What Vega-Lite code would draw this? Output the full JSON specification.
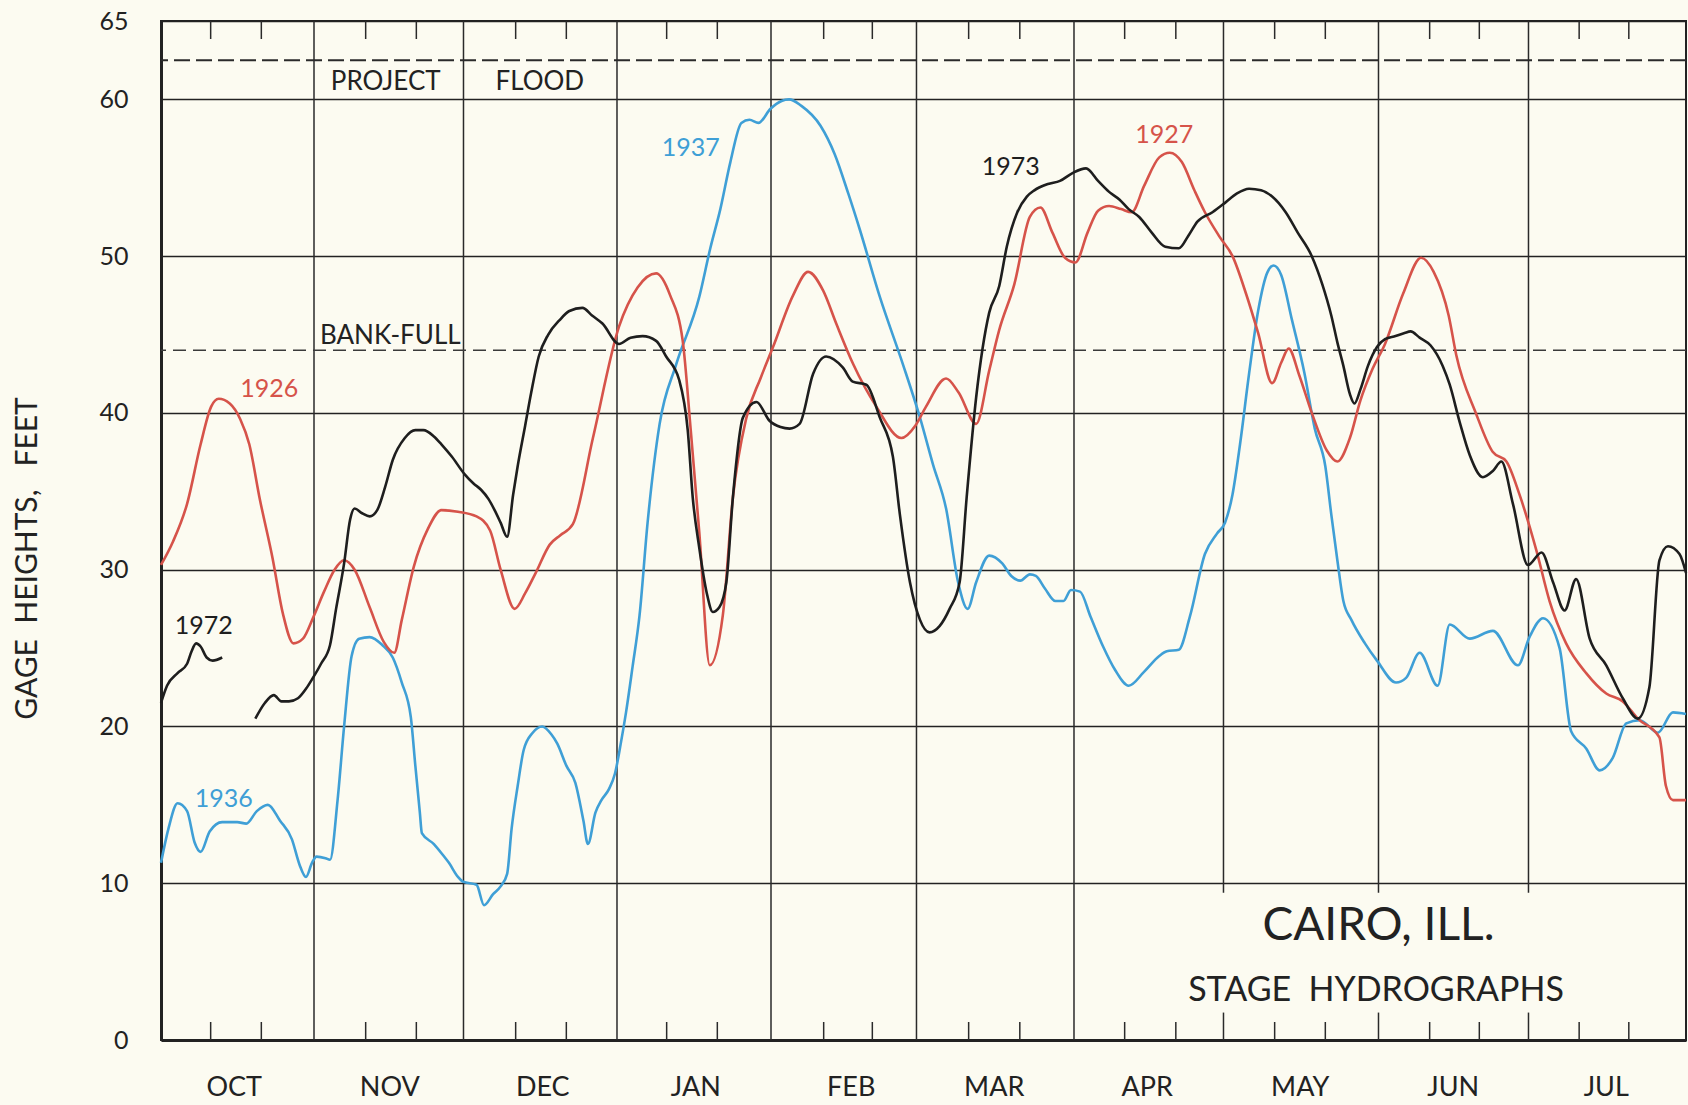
{
  "$schema": "https://vega.github.io/schema/vega-lite/v6.json",
  "width": 1525,
  "height": 1019,
  "autosize": {"type": "none"},
  "padding": {"left": 161, "top": 21, "right": 2, "bottom": 65},
  "background": "#fcfbf1",
  "config": {
    "view": {"stroke": "#222222", "strokeWidth": 2},
    "font": "Lato"
  },
  "datasets": {
    "red": [[0,30.3],[2.4,31.8],[5.2,34.2],[7.9,38.0],[10,40.4],[11.5,40.9],[13.7,40.6],[15.8,39.6],[17.6,38.0],[19.7,34.5],[22.2,30.8],[24.3,27.2],[26.4,25.3],[28.3,25.6],[30.4,27.0],[32.5,28.6],[34.6,30.0],[36.5,30.6],[38.6,30.0],[41.6,27.6],[44.4,25.4],[46.5,24.7],[48,26.8],[50.4,30.2],[53.2,32.6],[55.9,33.8],[59.2,33.7],[62.9,33.4],[65.6,32.5],[67.7,30.0],[70.5,27.5],[72.6,28.5],[74.7,29.8],[77.5,31.6],[79.6,32.2],[82.1,32.9],[86.1,38.4],[91.3,45.5],[95,48.0],[98.7,48.9],[101.5,47.5],[104,44.6],[105.6,38.9],[107.3,32.4],[109.4,23.9],[112,27.1],[114,34.6],[116.7,39.7],[119.5,42.2],[122,44.2],[126,47.5],[129,49.0],[132,47.8],[134.6,45.7],[138,43.1],[142.6,40.4],[147.6,38.4],[150.4,39.2],[152.5,40.4],[156.5,42.2],[159,41.3],[162.5,39.3],[165.1,42.7],[167.1,45.3],[170.1,48.2],[173.2,52.5],[175.3,53.1],[177.7,51.5],[180.2,49.9],[182.3,49.6],[184.7,51.5],[186.8,52.9],[189,53.2],[191.4,53.0],[193.5,52.8],[196,54.5],[199,56.3],[201.1,56.6],[203.5,56.0],[206,54.2],[208.1,52.8],[211.1,51.2],[213.6,50.0],[216.3,47.6],[218.7,45.1],[221.5,41.9],[223.3,43.2],[224.8,44.1],[226.9,42.4],[229.4,40.0],[232.4,37.6],[234.5,36.9],[237,38.4],[239.1,40.8],[241.5,42.8],[244,44.4],[247.6,47.6],[251.2,49.9],[253.7,49.0],[256.7,46.2],[258.2,43.7],[262.1,40.0],[265.5,37.5],[268.2,36.9],[270.8,34.8],[274.2,31.2],[276.8,28.0],[280.1,25.3],[284.1,23.4],[288.1,22.1],[291.4,21.6],[294.4,20.5],[298.7,19.3],[300,16.2],[301.4,15.3],[304,15.3]],
    "blue": [[0,11.3],[1.5,13.5],[3.3,15.1],[5.2,14.6],[6.7,12.6],[7.9,12.0],[9.7,13.3],[12.2,13.9],[15.2,13.9],[17,13.8],[19.1,14.6],[21.3,15.0],[23.7,14.0],[26.1,12.8],[27.6,11.2],[28.9,10.4],[30.1,11.3],[31,11.7],[32.8,11.6],[33.7,11.5],[35.2,15.3],[36.5,20.0],[38,24.5],[39.5,25.6],[41.6,25.7],[44.1,25.2],[46.2,24.4],[48,22.8],[49.8,20.6],[50.7,17.5],[51.6,14.5],[52,13.2],[54.4,12.5],[56.2,11.8],[57.4,11.3],[59.2,10.4],[60.2,10.1],[62.9,9.9],[64.4,8.6],[66.2,9.3],[67.7,9.8],[69,10.6],[69.9,13.5],[71.1,16.2],[72.3,18.5],[74.1,19.6],[76,20.0],[77.8,19.5],[79,18.9],[80.8,17.5],[82.6,16.4],[84.2,14.0],[85.1,12.5],[86.6,14.5],[87.8,15.3],[89.3,16.0],[90.5,17.0],[91.7,19.0],[92.7,20.9],[94,23.8],[95.4,27.1],[97,33.0],[99.4,39.3],[102.7,43.1],[107.3,47.4],[109.5,50.5],[111.5,53.0],[113.5,56.0],[115.7,58.5],[117.3,58.7],[119.1,58.5],[121.5,59.4],[123.7,59.9],[125.2,60.0],[127.6,59.6],[131.5,58.3],[134.3,56.5],[137,54.0],[139.3,51.7],[143.3,47.4],[147.9,43.1],[151.3,39.7],[153.9,36.7],[156.5,33.9],[158.9,29.2],[160.8,27.5],[162.5,29.2],[165.1,30.9],[167.7,30.4],[169.5,29.6],[171.3,29.3],[173.2,29.7],[174.4,29.6],[176.2,28.8],[178.3,28.0],[179.9,28.0],[181.4,28.7],[183.2,28.6],[185.3,27.0],[187.8,25.1],[190.2,23.6],[192.9,22.6],[196,23.5],[199,24.5],[200.5,24.8],[202.9,24.9],[205.1,27.0],[208.1,31.0],[210.5,32.3],[212.1,33.0],[213.6,34.8],[215.1,38.0],[216.9,42.5],[218.7,46.5],[220.6,49.0],[221.8,49.4],[223.3,48.8],[225.4,46.0],[227.9,42.6],[230,39.0],[232.1,36.6],[233.3,33.5],[234.5,30.6],[235.7,28.0],[237.3,26.8],[240,25.3],[242.4,24.2],[246.2,22.8],[248.2,23.1],[250.9,24.7],[254.5,22.6],[256.9,26.5],[260.9,25.6],[265.5,26.1],[270.5,23.9],[272.8,25.7],[275.5,26.9],[278.8,25.0],[281.1,19.7],[284.1,18.6],[286.8,17.2],[289.4,18.0],[292.1,20.2],[294.8,20.4],[298.4,19.6],[301.4,20.9],[304,20.8]],
    "black1972": [[0,21.5],[1.2,22.6],[3.3,23.4],[5.2,24.0],[6.1,24.8],[7,25.3],[7.9,25.1],[9.1,24.4],[10.3,24.2],[12.2,24.4]],
    "black1973": [[18.8,20.5],[20.7,21.5],[22.5,22.0],[24,21.6],[25.5,21.6],[27.3,21.8],[28.9,22.4],[30.1,23.0],[31.9,24.0],[33.7,25.2],[34.9,27.5],[36.5,30.4],[37.7,33.2],[38.6,33.9],[40.1,33.6],[41.6,33.4],[43.1,33.8],[44.7,35.3],[46.2,37.0],[48.6,38.4],[50.7,38.9],[52.3,38.9],[54.4,38.5],[55.9,38.0],[58,37.2],[60.5,36.1],[62.3,35.5],[63.8,35.1],[65.3,34.5],[66.5,33.8],[67.7,33.0],[69,32.1],[70.2,34.8],[71.1,36.6],[72.6,39.2],[73.8,41.3],[75.3,43.6],[77.2,45.0],[79.4,45.9],[81.4,46.5],[84,46.7],[86,46.2],[88,45.7],[91.3,44.4],[93.6,44.8],[96,44.9],[98.7,44.6],[100.7,43.6],[103.3,42.1],[105,38.9],[106,34.6],[107.3,31.4],[108.8,28.5],[110,27.3],[111.3,27.6],[112.7,29.2],[114,34.6],[116,39.7],[118.7,40.7],[121.3,39.5],[123.5,39.1],[125.3,39.0],[127.3,39.3],[130,42.5],[132.6,43.6],[135.9,42.9],[137.9,42.0],[140.6,41.8],[143.3,39.7],[145.9,37.2],[147.3,33.5],[149.3,29.2],[151.3,26.8],[153.2,26.0],[155.2,26.4],[157.2,27.5],[159.2,29.2],[160.6,34.6],[162.5,41.0],[165.1,46.4],[167.1,48.1],[168.6,50.6],[170.7,52.8],[172.6,53.8],[174.1,54.2],[176.8,54.6],[179.2,54.8],[181.7,55.3],[184.4,55.6],[186.8,54.8],[189,54.1],[191.1,53.6],[192.9,53.0],[195,52.5],[197.5,51.5],[200.2,50.6],[202.9,50.5],[204.8,51.3],[206.6,52.2],[209.6,52.8],[212.1,53.4],[214.5,54.0],[216.9,54.3],[219.3,54.2],[221.5,53.8],[224.2,52.8],[226.6,51.5],[229.4,50.0],[231.5,48.2],[233.3,46.2],[234.5,44.5],[235.7,43.0],[237,41.2],[237.9,40.6],[239.1,41.5],[240.6,43.0],[242.4,44.2],[244,44.7],[246.1,44.9],[247.9,45.1],[249.1,45.2],[250.9,44.8],[253.1,44.3],[255.5,43.0],[256.9,41.8],[258.9,39.4],[260.9,37.3],[263.5,35.9],[265.5,36.3],[267.2,36.9],[269.5,34.2],[272.5,30.3],[275.2,31.1],[277.5,29.2],[279.8,27.4],[282.1,29.4],[284.8,25.6],[288.1,23.9],[291.4,21.8],[294.4,20.5],[296.7,22.5],[298.7,30.6],[300.4,31.5],[302.7,31.0],[304,29.8]],
    "monthLines": [{"day": 30.5, "lo": 0}, {"day": 60.3, "lo": 0}, {"day": 90.9, "lo": 0}, {"day": 121.6, "lo": 0}, {"day": 150.6, "lo": 0}, {"day": 182, "lo": 0}, {"day": 211.8, "lo": 9.4}, {"day": 242.7, "lo": 9.4}, {"day": 272.6, "lo": 9.4}],
    "minorTicks": [{"day": 9.9}, {"day": 20}, {"day": 40.8}, {"day": 50.9}, {"day": 70.7}, {"day": 80.8}, {"day": 100.8}, {"day": 110.9}, {"day": 132.1}, {"day": 141.8}, {"day": 161}, {"day": 171.2}, {"day": 192.1}, {"day": 202.3}, {"day": 222}, {"day": 232.1}, {"day": 252.9}, {"day": 262.8}, {"day": 282.7}, {"day": 292.6}],
    "majorTicks": [{"day": 211.8}, {"day": 242.7}, {"day": 272.6}],
    "seriesLabels": [
      {"label": "1926", "series": "1926-27", "day": 21.6, "ft": 41.5},
      {"label": "1927", "series": "1926-27", "day": 200, "ft": 57.7},
      {"label": "1936", "series": "1936-37", "day": 12.5, "ft": 15.4},
      {"label": "1937", "series": "1936-37", "day": 105.6, "ft": 56.9},
      {"label": "1972", "series": "1972-73", "day": 8.5, "ft": 26.4},
      {"label": "1973", "series": "1972-73", "day": 169.4, "ft": 55.7}
    ],
    "notes": [
      {"text": "PROJECT", "day": 44.8, "ft": 61.1},
      {"text": "FLOOD", "day": 75.5, "ft": 61.1},
      {"text": "BANK-FULL", "day": 45.7, "ft": 44.9}
    ],
    "titles": [
      {"text": "CAIRO, ILL.", "day": 242.7, "ft": 7.3, "size": "big"},
      {"text": "STAGE\u00a0\u00a0HYDROGRAPHS", "day": 242.2, "ft": 3.15, "size": "small"}
    ]
  },
  "layer": [
    {
      "data": {"name": "monthLines"},
      "mark": {"type": "rule", "color": "#2a2a2a", "strokeWidth": 1.5},
      "encoding": {
        "x": {"field": "day", "type": "quantitative", "scale": {"domain": [0, 304], "nice": false, "zero": false},
          "axis": {"values": [14.5, 45.5, 76, 106.5, 137.5, 166, 196.5, 227, 257.5, 288],
            "labelExpr": "datum.value < 30 ? 'OCT' : datum.value < 60 ? 'NOV' : datum.value < 90 ? 'DEC' : datum.value < 120 ? 'JAN' : datum.value < 150 ? 'FEB' : datum.value < 180 ? 'MAR' : datum.value < 210 ? 'APR' : datum.value < 240 ? 'MAY' : datum.value < 270 ? 'JUN' : 'JUL'",
            "grid": false, "ticks": false, "domainColor": "#222222", "domainWidth": 3,
            "labelFontSize": 27, "labelColor": "#222222", "labelBaseline": "middle", "labelPadding": 47, "title": null}},
        "y": {"field": "lo", "type": "quantitative", "scale": {"domain": [0, 65], "nice": false, "zero": true},
          "axis": {"values": [0, 10, 20, 30, 40, 50, 60, 65], "grid": true, "gridColor": "#222222", "gridWidth": 1.6, "gridOpacity": 1,
            "ticks": false, "domainColor": "#222222", "domainWidth": 3,
            "labelFontSize": 25, "labelColor": "#222222", "labelPadding": 33,
            "title": "GAGE\u00a0\u00a0HEIGHTS,\u00a0\u00a0\u00a0FEET", "titleFontSize": 30, "titleFontWeight": "normal", "titleColor": "#222222",
            "titleAngle": -90, "titleX": -134, "titleY": 537, "titleAlign": "center", "titleBaseline": "middle"}},
        "y2": {"datum": 65}
      }
    },
    {
      "data": {"name": "minorTicks"},
      "mark": {"type": "rule", "color": "#2a2a2a", "strokeWidth": 1.5},
      "encoding": {"x": {"field": "day", "type": "quantitative"}, "y": {"datum": 0}, "y2": {"datum": 1.15}}
    },
    {
      "data": {"name": "minorTicks"},
      "mark": {"type": "rule", "color": "#2a2a2a", "strokeWidth": 1.5},
      "encoding": {"x": {"field": "day", "type": "quantitative"}, "y": {"datum": 63.85}, "y2": {"datum": 65}}
    },
    {
      "data": {"name": "majorTicks"},
      "mark": {"type": "rule", "color": "#2a2a2a", "strokeWidth": 1.5},
      "encoding": {"x": {"field": "day", "type": "quantitative"}, "y": {"datum": 0}, "y2": {"datum": 1.75}}
    },
    {
      "data": {"values": [{"level": 62.5}]},
      "mark": {"type": "rule", "color": "#2a2a2a", "strokeWidth": 2, "strokeDash": [16, 6]},
      "encoding": {"y": {"field": "level", "type": "quantitative"}}
    },
    {
      "data": {"values": [{"level": 44}]},
      "mark": {"type": "rule", "color": "#3a3a3a", "strokeWidth": 1.5, "strokeDash": [13, 7]},
      "encoding": {"y": {"field": "level", "type": "quantitative"}}
    },
    {
      "data": {"name": "blue"},
      "mark": {"type": "line", "color": "#3f9fd6", "strokeWidth": 2.6, "interpolate": "monotone"},
      "encoding": {"x": {"field": "0", "type": "quantitative"}, "y": {"field": "1", "type": "quantitative"}}
    },
    {
      "data": {"name": "red"},
      "mark": {"type": "line", "color": "#d6534a", "strokeWidth": 2.6, "interpolate": "monotone"},
      "encoding": {"x": {"field": "0", "type": "quantitative"}, "y": {"field": "1", "type": "quantitative"}}
    },
    {
      "data": {"name": "black1972"},
      "mark": {"type": "line", "color": "#1e1e1e", "strokeWidth": 2.6, "interpolate": "monotone"},
      "encoding": {"x": {"field": "0", "type": "quantitative"}, "y": {"field": "1", "type": "quantitative"}}
    },
    {
      "data": {"name": "black1973"},
      "mark": {"type": "line", "color": "#1e1e1e", "strokeWidth": 2.6, "interpolate": "monotone"},
      "encoding": {"x": {"field": "0", "type": "quantitative"}, "y": {"field": "1", "type": "quantitative"}}
    },
    {
      "data": {"name": "seriesLabels"},
      "mark": {"type": "text", "fontSize": 25, "align": "center", "baseline": "middle"},
      "encoding": {
        "x": {"field": "day", "type": "quantitative"},
        "y": {"field": "ft", "type": "quantitative"},
        "text": {"field": "label"},
        "color": {"field": "series", "type": "nominal", "legend": null,
          "scale": {"domain": ["1926-27", "1936-37", "1972-73"], "range": ["#d6534a", "#3f9fd6", "#1e1e1e"]}}
      }
    },
    {
      "data": {"name": "notes"},
      "mark": {"type": "text", "fontSize": 26, "align": "center", "baseline": "middle", "color": "#222222"},
      "encoding": {
        "x": {"field": "day", "type": "quantitative"},
        "y": {"field": "ft", "type": "quantitative"},
        "text": {"field": "text"}
      }
    },
    {
      "data": {"name": "titles"},
      "mark": {"type": "text", "align": "center", "baseline": "middle", "color": "#222222"},
      "encoding": {
        "x": {"field": "day", "type": "quantitative"},
        "y": {"field": "ft", "type": "quantitative"},
        "text": {"field": "text"},
        "size": {"field": "size", "type": "nominal", "legend": null, "scale": {"domain": ["big", "small"], "range": [46, 34]}}
      }
    }
  ]
}
